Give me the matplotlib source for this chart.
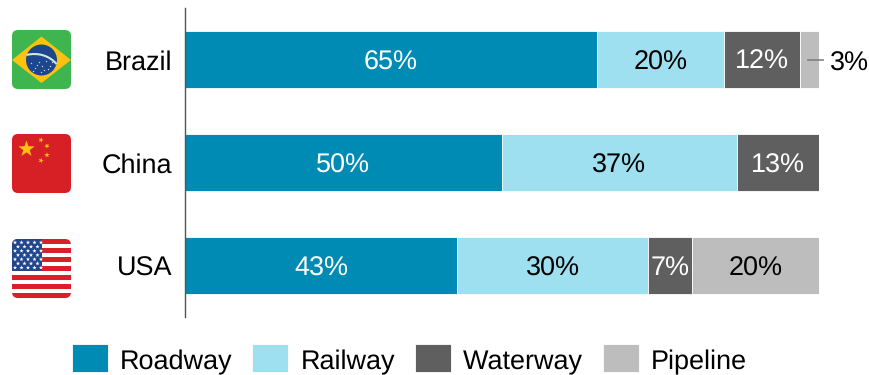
import matplotlib
matplotlib.use('Agg')
import matplotlib.pyplot as plt
from matplotlib.container import BarContainer
from matplotlib.legend_handler import HandlerPatch, update_from_first_child
from matplotlib.patches import FancyBboxPatch, Polygon, Circle, Rectangle, PathPatch
from matplotlib.path import Path
import numpy as np

plt.rcParams['font.family'] = ['Liberation Sans', 'DejaVu Sans']
plt.rcParams['text.hinting'] = 'no_hinting'
plt.rcParams['text.hinting_factor'] = 1
plt.rcParams['text.kerning_factor'] = 6

countries = ['Brazil', 'China', 'USA']
modes = ['Roadway', 'Railway', 'Waterway', 'Pipeline']
roadway = [65, 50, 43]
railway = [20, 37, 30]
waterway = [12, 13, 7]
pipeline = [3, 0, 20]

mode_colors = ['#008BB4', '#9EE0EF', '#5F5F5F', '#BDBDBD']
label_colors = ['white', 'black', 'white', 'black']

W, H = 869, 375
FS = 19.4
LEGEND_FS = 19.2


def add_flag_base(ax, y, color):
    # rounded square that also clips everything drawn on the flag
    box = FancyBboxPatch((12, y), 59, 59, boxstyle='round,pad=0,rounding_size=6',
                         fc=color, ec='none', zorder=1)
    ax.add_patch(box)
    return box


def add_star(ax, cx, cy, r, color, clip, rot=0.0):
    ang = np.deg2rad(np.arange(10) * 36 - 90 + rot)
    rad = np.where(np.arange(10) % 2 == 0, r, r * 0.4)
    pts = np.column_stack([cx + rad * np.cos(ang), cy + rad * np.sin(ang)])
    p = Polygon(pts, closed=True, fc=color, ec='none', zorder=3)
    ax.add_patch(p)
    p.set_clip_path(clip)


def draw_brazil(ax):
    box = add_flag_base(ax, 30, '#3FB54F')
    ax.add_patch(Polygon([(12, 60), (41.5, 36.5), (71, 60), (41.5, 83)],
                         fc='#FDC20F', ec='none', zorder=2)).set_clip_path(box)
    ax.add_patch(Circle((41.5, 60), 15.5, fc='#1D4691', ec='none', zorder=3))
    band = Path([(26.5, 55), (38, 52), (50, 56), (56.5, 64)],
                [Path.MOVETO, Path.CURVE4, Path.CURVE4, Path.CURVE4])
    ax.add_patch(PathPatch(band, fc='none', ec='#D5E8D8', lw=1.5, zorder=4))
    sx = [31, 35, 39, 42, 46, 50, 33, 37, 44, 48, 41, 52]
    sy = [63, 68, 62, 66, 61, 66, 71, 65, 70, 69, 72, 62]
    ax.scatter(sx, sy, s=1.0, c='#C8D4EA', linewidths=0, zorder=5)


def draw_china(ax):
    box = add_flag_base(ax, 134, '#D71F26')
    add_star(ax, 26.5, 149, 8.5, '#FFC20E', box)
    add_star(ax, 41, 140, 2.8, '#FFC20E', box, 20)
    add_star(ax, 47, 146, 2.8, '#FFC20E', box, 40)
    add_star(ax, 47, 155, 2.8, '#FFC20E', box, 0)
    add_star(ax, 41, 160.5, 2.8, '#FFC20E', box, 20)


def draw_usa(ax):
    box = add_flag_base(ax, 239, 'white')
    stripe = 59 / 13
    for i in range(0, 13, 2):
        r = Rectangle((12, 239 + i * stripe), 59, stripe, fc='#DA1F2B', ec='none', zorder=2)
        ax.add_patch(r)
        r.set_clip_path(box)
    canton = Rectangle((12, 239), 30, 32, fc='#21468B', ec='none', zorder=3)
    ax.add_patch(canton)
    canton.set_clip_path(box)
    # alternating rows of small stars on the canton
    for row in range(7):
        y = 242.5 + row * 4.2
        xs = np.arange(15, 42, 6.5) if row % 2 == 0 else np.arange(18, 40, 6.5)
        for x in xs:
            add_star(ax, x, y, 2.2, 'white', box)


fig = plt.figure(figsize=(W / 100, H / 100), dpi=100)
ax = fig.add_axes([184.5 / W, 1 - 317 / H, 634.5 / W, 309 / H])

y_pos = np.arange(len(countries))
series = [roadway, railway, waterway, pipeline]
left = np.zeros(len(countries))
handles = []
for name, vals, color, tcolor in zip(modes, series, mode_colors, label_colors):
    vals = np.array(vals)
    bars = ax.barh(y_pos, vals, left=left, height=0.55, color=color,
                   edgecolor='white', linewidth=0.6, label=name)
    handles.append(bars)
    for y, v, l in zip(y_pos, vals, left):
        # the 3% slice is too thin, its label sits outside
        if v > 3:
            ax.text(l + v / 2, y, '%d%%' % v, color=tcolor, fontsize=FS,
                    ha='center', va='center_baseline')
    left += vals

ax.set_xlim(0, 100)
ax.set_ylim(2.5, -0.5)
ax.set_xticks([])
ax.set_yticks(y_pos)
ax.set_yticklabels(countries, fontsize=FS, color='black')
ax.tick_params(axis='y', length=0, pad=9)
for side in ['top', 'right', 'bottom']:
    ax.spines[side].set_visible(False)
ax.spines['left'].set_color('#555555')
ax.spines['left'].set_linewidth(1)

# leader line and outside label for Brazil's pipeline share
ax.plot([98.3, 100.6], [0, 0], color='#808080', lw=1.2, clip_on=False)
ax.text(101.75, 0.01, '3%', fontsize=FS, color='black', ha='left', va='center_baseline', clip_on=False)

# ypad lifts the swatches a little above the text baseline
swatch = HandlerPatch(ypad=0.19, update_func=update_from_first_child)
fig.legend(handles=handles, loc='center', bbox_to_anchor=(409.5 / W, 1 - 360.5 / H),
           ncol=4, frameon=False, fontsize=LEGEND_FS, handlelength=1.35, handleheight=1.5,
           handletextpad=0.45, columnspacing=0.75, borderpad=0, borderaxespad=0,
           handler_map={BarContainer: swatch})

# flags live on a full-figure overlay measured in pixels
over = fig.add_axes([0, 0, 1, 1], zorder=-1)
over.set_xlim(0, W)
over.set_ylim(H, 0)
over.axis('off')
draw_brazil(over)
draw_china(over)
draw_usa(over)

fig.savefig('out.png', dpi=100)
